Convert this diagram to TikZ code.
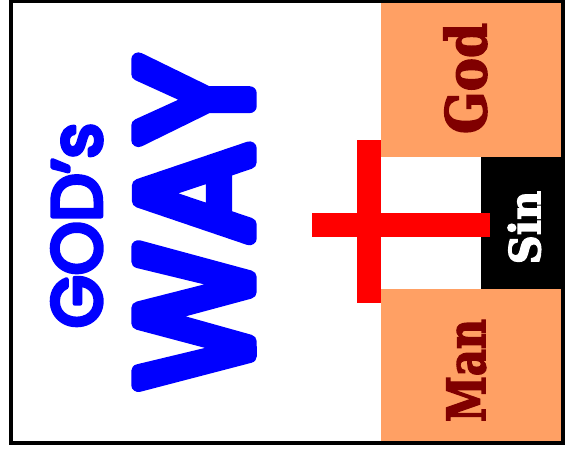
\documentclass[tikz,border=0pt]{standalone}
\usepackage{fontspec}
\setmainfont{DejaVu Serif}
\newfontfamily\wayfont{Poppins}
\usepackage{graphicx}
\definecolor{sand}{RGB}{255,160,100}
\definecolor{maroonx}{RGB}{128,0,0}
\definecolor{crossred}{RGB}{255,0,0}
\definecolor{wayblue}{RGB}{0,0,255}
\newcommand\roundtext[2]{\special{pdf:literal direct 1 j 1 J #1 w 2 Tr}#2\special{pdf:literal direct 0 Tr}}
\newcommand\heavytext[2]{\special{pdf:literal direct 0 j 0 J #1 w 2 Tr}#2\special{pdf:literal direct 0 Tr}}
\tikzset{
  slab/.style={inner sep=0pt, anchor=base, rotate=90, font=\bfseries},
  wayt/.style={inner sep=0pt, anchor=base, rotate=90, text=wayblue, font=\wayfont},
  bar/.style={fill=crossred},
}
\begin{document}
\begin{tikzpicture}[x=1pt,y=-1pt]
\useasboundingbox (0,0) rectangle (566,455);
\fill[white] (0,0) rectangle (566,455);
% right panel
\fill[sand] (381,0) rectangle (563,157);
\fill[sand] (381,289) rectangle (563,443);
\fill[black] (481,157) rectangle (563,289);
% labels
\node[slab, text=maroonx] (god) at (486.2,78.5) {\resizebox{111pt}{42.5pt}{\heavytext{0.3}{God}}};
\node[slab, text=maroonx] (man) at (485.2,370.5) {\resizebox{103pt}{38.5pt}{\heavytext{0.3}{Man}}};
\node[slab, text=white] (sin) at (540.3,227.5) {\resizebox{73.5pt}{32.5pt}{\heavytext{0.3}{Sin}}};
% cross
\fill[bar] (357,140) rectangle (381,303);
\fill[bar] (312,213) rectangle (490,237);
% title
\node[wayt] (gods) at (101,225.5) {\resizebox{205pt}{49pt}{\roundtext{0.65}{GOD’s}}};
\node[wayt] (way) at (249.5,222.5) {\resizebox{332pt}{111pt}{\roundtext{0.9}{WAY}}};
% frame
\draw[line width=3.5pt] (10.8,1.5) rectangle (563,443);
\end{tikzpicture}
\end{document}
